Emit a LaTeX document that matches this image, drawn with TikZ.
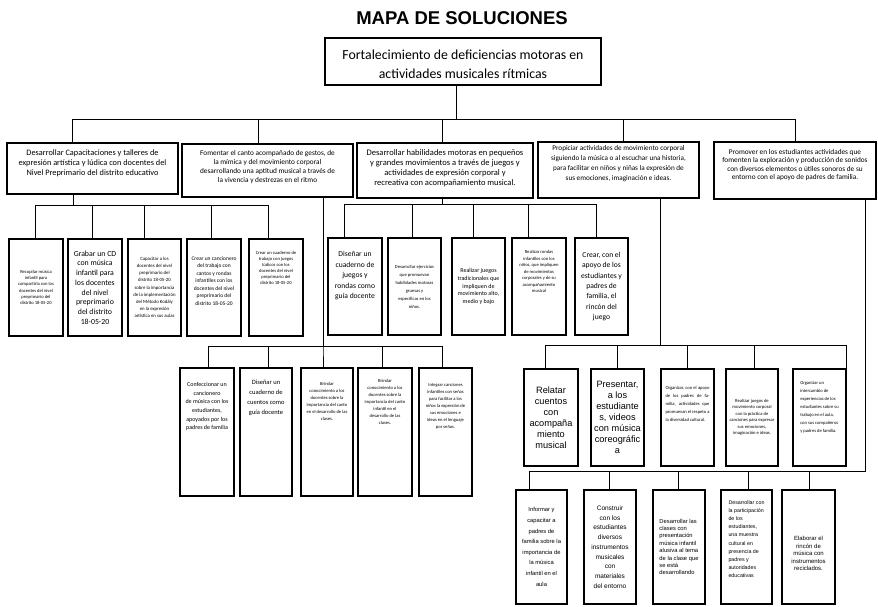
\documentclass[tikz,border=0pt]{standalone}
\usepackage{fontspec}
\setmainfont{Carlito}
\newfontfamily\arialfont{Liberation Sans}
\newfontfamily\titlefont{Liberation Sans}
\tikzset{%
	box/.style={
		draw,
		line width=1.2pt,
		align=center,
		inner sep=1pt
	},
	link/.style={
		line width=0.9pt
	},
}
\newcommand{\txtsize}[2]{\fontsize{#1}{#2}\selectfont}
\newcommand{\padbelow}[1]{\rule[-#1pt]{0pt}{#1pt}}
\newcommand{\padabove}[1]{\rule{0pt}{#1pt}}

\begin{document}
\begin{tikzpicture}[x=1pt,y=-1pt]
	\useasboundingbox (0,0) rectangle (878,606);

	% Title and root box
	\node[font=\titlefont\bfseries\txtsize{18.5}{21}] (title) at (462,18) {MAPA DE SOLUCIONES};
	\node[box, line width=1.3pt, minimum width=276pt, minimum height=47pt, font=\txtsize{13.8}{19}] (root) at (463,61.5)
		{\padabove{15}Fortalecimiento de deficiencias motoras en\\actividades musicales rítmicas};

	% First level
	\node[box, minimum width=171pt, minimum height=51pt, font=\txtsize{8.3}{9.7}] (sol1) at (92.5,168.5)
		{Desarrollar Capacitaciones y talleres de\\expresión artística y lúdica con docentes del\\Nivel Preprimario del distrito educativo\padbelow{12}};
	\node[box, minimum width=171pt, minimum height=53pt, font=\txtsize{7.3}{9}] (sol2) at (267.5,170.5)
		{Fomentar el canto acompañado de gestos, de\\la mímica y del movimiento corporal\\desarrollando una aptitud musical a través de\\la vivencia y destrezas en el ritmo\padbelow{9}};
	\node[box, minimum width=176pt, minimum height=55pt, font=\txtsize{8.5}{9.7}] (sol3) at (445,170.5)
		{Desarrollar habilidades motoras en pequeños\\y grandes movimientos a través de juegos y\\actividades de expresión corporal y\\recreativa con acompañamiento musical.\padbelow{6}};
	\node[box, minimum width=161pt, minimum height=56pt, font=\txtsize{7.2}{10}] (sol4) at (618.5,170)
		{Propiciar actividades de movimiento corporal\\siguiendo la música o al escuchar una historia,\\para facilitar en niños y niñas la expresión de\\sus emociones, imaginación e ideas.\padbelow{14}};
	\node[box, minimum width=162pt, minimum height=57pt, font=\txtsize{7.3}{8.5}] (sol5) at (795,170.5)
		{Promover en los estudiantes actividades que\\fomenten la exploración y producción de sonidos\\con diversos elementos o útiles sonoros de su\\entorno con el apoyo de padres de familia.\padbelow{12}};

	% Second level, under the first box
	\node[box, minimum width=54pt, minimum height=97pt, font=\txtsize{4.6}{6.2}] (act1a) at (36,287.5)
		{Recopilar música\\infantil para\\compartirla con los\\docentes del nivel\\preprimario del\\distrito 18-05-20};
	\node[box, minimum width=54pt, minimum height=97pt, font=\txtsize{7.8}{9.7}] (act1b) at (95,287.5)
		{Grabar un CD\\con música\\infantil para\\los docentes\\del nivel\\preprimario\\del distrito\\18-05-20};
	\node[box, minimum width=53pt, minimum height=97pt, font=\txtsize{4.8}{7.2}] (act1c) at (154.5,287.5)
		{Capacitar a los\\docentes del nivel\\preprimario del\\distrito 18-05-20\\sobre la importancia\\de la implementación\\del Método Kodály\\en la expresión\\artística en sus aulas};
	\node[box, minimum width=54pt, minimum height=97pt, font=\txtsize{5.5}{7.5}] (act1d) at (214,287.5)
		{Crear un cancionero\\del trabajo con\\cantos y rondas\\infantiles con los\\docentes del nivel\\preprimario del\\distrito 18-05-20\padbelow{13}};
	\node[box, minimum width=54pt, minimum height=97pt, font=\txtsize{4.6}{6}] (act1e) at (276,287.5)
		{Crear un cuaderno de\\trabajo con juegos\\lúdicos con los\\docentes del nivel\\preprimario del\\distrito 18-05-20\padbelow{39}};

	% Second level, under the third box
	\node[box, minimum width=54pt, minimum height=97pt, font=\txtsize{7.6}{10.5}] (act3a) at (355,286.5)
		{Diseñar un\\cuaderno de\\juegos y\\rondas como\\guía docente\padbelow{23}};
	\node[box, minimum width=53pt, minimum height=97pt, font=\txtsize{4.6}{8}] (act3b) at (414.5,286.5)
		{Desarrollar ejercicios\\que promuevan\\habilidades motoras\\gruesas y\\específicas en los\\niños.};
	\node[box, minimum width=53pt, minimum height=97pt, font=\txtsize{6}{7.7}] (act3c) at (478.5,286.5)
		{Realizar juegos\\tradicionales que\\impliquen de\\movimiento alto,\\medio y bajo};
	\node[box, minimum width=54pt, minimum height=97pt, font=\txtsize{4.6}{6.5}] (act3d) at (539,286.5)
		{Realizar rondas\\infantiles con los\\niños, que impliquen\\de movimientos\\corporales y de su\\acompañamiento\\musical\padbelow{30}};
	\node[box, minimum width=53pt, minimum height=97pt, font=\txtsize{7.6}{10.3}] (act3e) at (601.5,286.5)
		{Crear, con el\\apoyo de los\\estudiantes y\\padres de\\familia, el\\rincón del\\juego};

	% Third level, under the second box
	\node[box, minimum width=54pt, minimum height=128pt, font=\txtsize{6}{8.7}] (act2a) at (207,432)
		{Confeccionar un\\cancionero\\de música con los\\estudiantes,\\apoyados por los\\padres de familia\padbelow{52}};
	\node[box, minimum width=52pt, minimum height=128pt, font=\txtsize{6.5}{10}] (act2b) at (266,432)
		{Diseñar un\\cuaderno de\\cuentos como\\guía docente\padbelow{70}};
	\node[box, minimum width=52pt, minimum height=128pt, font=\txtsize{4.6}{7}] (act2c) at (327,432)
		{Brindar\\conocimiento a los\\docentes sobre la\\importancia del canto\\en el desarrollo de las\\clases.\padbelow{61}};
	\node[box, minimum width=54pt, minimum height=128pt, font=\txtsize{4.6}{7}] (act2d) at (385,432)
		{Brindar\\conocimiento a los\\docentes sobre la\\importancia del canto\\infantil en el\\desarrollo de las\\clases.\padbelow{61}};
	\node[box, minimum width=53pt, minimum height=128pt, font=\txtsize{4.6}{7}] (act2e) at (445.5,432)
		{Integrar canciones\\infantiles con señas\\para facilitar a los\\niños la expresión de\\sus emociones e\\ideas en el lenguaje\\por señas.\padbelow{52}};

	% Third level, under the fourth box
	\node[box, minimum width=54pt, minimum height=97pt, font=\arialfont\txtsize{9.2}{11}] (act4a) at (551,417.5)
		{Relatar\\cuentos\\con\\acompaña\\miento\\musical};
	\node[box, minimum width=53pt, minimum height=97pt, font=\arialfont\txtsize{9.2}{11}] (act4b) at (617.5,417.5)
		{Presentar,\\a los\\estudiante\\s, videos\\con música\\coreográfic\\a};
	\node[box, minimum width=53pt, minimum height=97pt, text width=44pt, align=justify, font=\txtsize{4.6}{8}] (act4c) at (687.5,417.5)
		{\tolerance=9999 Organizar, con el apoyo de los padres de familia, actividades que promuevan el respeto a la diversidad cultural.\padbelow{27}};
	\node[box, minimum width=52pt, minimum height=97pt, font=\txtsize{4.6}{6.5}] (act4d) at (752,417.5)
		{Realizar juegos de\\movimiento corporal\\con la práctica de\\canciones para expresar\\sus emociones,\\imaginación e ideas.};
	\node[box, minimum width=53pt, minimum height=97pt, align=left, font=\txtsize{4.6}{8}] (act4e) at (819.5,417.5)
		{Organizar un\\intercambio de\\experiencias de los\\estudiantes sobre su\\trabajo en el aula,\\con sus compañeros\\y padres de familia.\padbelow{22}};

	% Bottom level, under the fifth box
	\node[box, minimum width=51pt, minimum height=114pt, font=\arialfont\txtsize{5.8}{10.6}] (act5a) at (541.5,547)
		{Informar y\\capacitar a\\padres de\\familia sobre la\\importancia de\\la música\\infantil en el\\aula};
	\node[box, minimum width=52pt, minimum height=114pt, font=\arialfont\txtsize{6.5}{9.7}] (act5b) at (610,547)
		{Construir\\con los\\estudiantes\\diversos\\instrumentos\\musicales\\con\\materiales\\del entorno};
	\node[box, minimum width=52pt, minimum height=114pt, align=left, font=\arialfont\txtsize{5.8}{7.4}] (act5c) at (679,547)
		{Desarrollar las\\clases con\\presentación\\música infantil\\alusiva al tema\\de la clase que\\se está\\desarrollando};
	\node[box, minimum width=51pt, minimum height=114pt, align=left, font=\arialfont\txtsize{5.3}{8.2}] (act5d) at (746.5,547)
		{Desarrollar con\\la participación\\de los\\estudiantes,\\una muestra\\cultural en\\presencia de\\padres y\\autoridades\\educativas\padbelow{16}};
	\node[box, minimum width=53pt, minimum height=114pt, font=\arialfont\txtsize{6}{7.5}] (act5e) at (808.5,547)
		{\padabove{18}Elaborar el\\rincón de\\música con\\instrumentos\\reciclados.};

	% Root to first level
	\draw[link] ([xshift=-7pt]root.south) -- ++(0,34) -| ([xshift=-20.5pt]sol1.north);
	\draw[link] ([xshift=-7pt]root.south) -- ++(0,34) -| ([xshift=-9.5pt]sol2.north);
	\draw[link] ([xshift=-7pt]root.south) -- ++(0,34) -| ([xshift=-3pt]sol3.north);
	\draw[link] ([xshift=-7pt]root.south) -- ++(0,34) -| ([xshift=4.5pt]sol4.north);
	\draw[link] ([xshift=-7pt]root.south) -- ++(0,34) -| (sol5.north);

	% First box to its activities
	\draw[link] ([xshift=-19.5pt]sol1.south) -- ++(0,11) -| ([xshift=-1pt]act1a.north);
	\draw[link] ([xshift=-19.5pt]sol1.south) -- ++(0,11) -| ([xshift=-3pt]act1b.north);
	\draw[link] ([xshift=-19.5pt]sol1.south) -- ++(0,11) -| ([xshift=-10.5pt]act1c.north);
	\draw[link] ([xshift=-19.5pt]sol1.south) -- ++(0,11) -| ([xshift=-3pt]act1d.north);
	\draw[link] ([xshift=-19.5pt]sol1.south) -- ++(0,11) -| ([xshift=-8pt]act1e.north);

	% Third box to its activities
	\draw[link] ([xshift=-3pt]sol3.south) -- ++(0,6) -| ([xshift=-11pt]act3a.north);
	\draw[link] ([xshift=-3pt]sol3.south) -- ++(0,6) -| ([xshift=-2.5pt]act3b.north);
	\draw[link] ([xshift=-3pt]sol3.south) -- ++(0,6) -| ([xshift=-5.5pt]act3c.north);
	\draw[link] ([xshift=-3pt]sol3.south) -- ++(0,6) -| ([xshift=-11pt]act3d.north);
	\draw[link] ([xshift=-3pt]sol3.south) -- ++(0,6) -| ([xshift=-5.5pt]act3e.north);

	% Second box to its activities
	\draw[link] ([xshift=55.5pt]sol2.south) -- ++(0,149) -| ([xshift=1pt]act2a.north);
	\draw[link] ([xshift=55.5pt]sol2.south) -- ++(0,149) -| ([xshift=2pt]act2b.north);
	\draw[link] ([xshift=55.5pt]sol2.south) -- ++(0,149) -| ([xshift=-4pt]act2c.north);
	\draw[link] ([xshift=55.5pt]sol2.south) -- ++(0,149) -| ([xshift=-3pt]act2d.north);
	\draw[link] ([xshift=55.5pt]sol2.south) -- ++(0,149) -| ([xshift=-3.5pt]act2e.north);

	% Fourth box to its activities
	\draw[link] ([xshift=41.5pt]sol4.south) -- ++(0,147) -| ([xshift=-6pt]act4a.north);
	\draw[link] ([xshift=41.5pt]sol4.south) -- ++(0,147) -| (act4b.north);
	\draw[link] ([xshift=41.5pt]sol4.south) -- ++(0,147) -| (act4c.north);
	\draw[link] ([xshift=41.5pt]sol4.south) -- ++(0,147) -| ([xshift=2pt]act4d.north);
	\draw[link] ([xshift=41.5pt]sol4.south) -- ++(0,147) -| (act4e.north east);

	% Fifth box to its activities
	\draw[link] ([xshift=70.5pt]sol5.south) -- ++(0,272) -| ([xshift=-12.5pt]act5a.north);
	\draw[link] ([xshift=70.5pt]sol5.south) -- ++(0,272) -| ([xshift=-1pt]act5b.north);
	\draw[link] ([xshift=70.5pt]sol5.south) -- ++(0,272) -| ([xshift=-1pt]act5c.north);
	\draw[link] ([xshift=70.5pt]sol5.south) -- ++(0,272) -| ([xshift=1.5pt]act5d.north);
	\draw[link] ([xshift=70.5pt]sol5.south) -- ++(0,272) -| ([xshift=0.5pt]act5e.north);
\end{tikzpicture}
\end{document}
